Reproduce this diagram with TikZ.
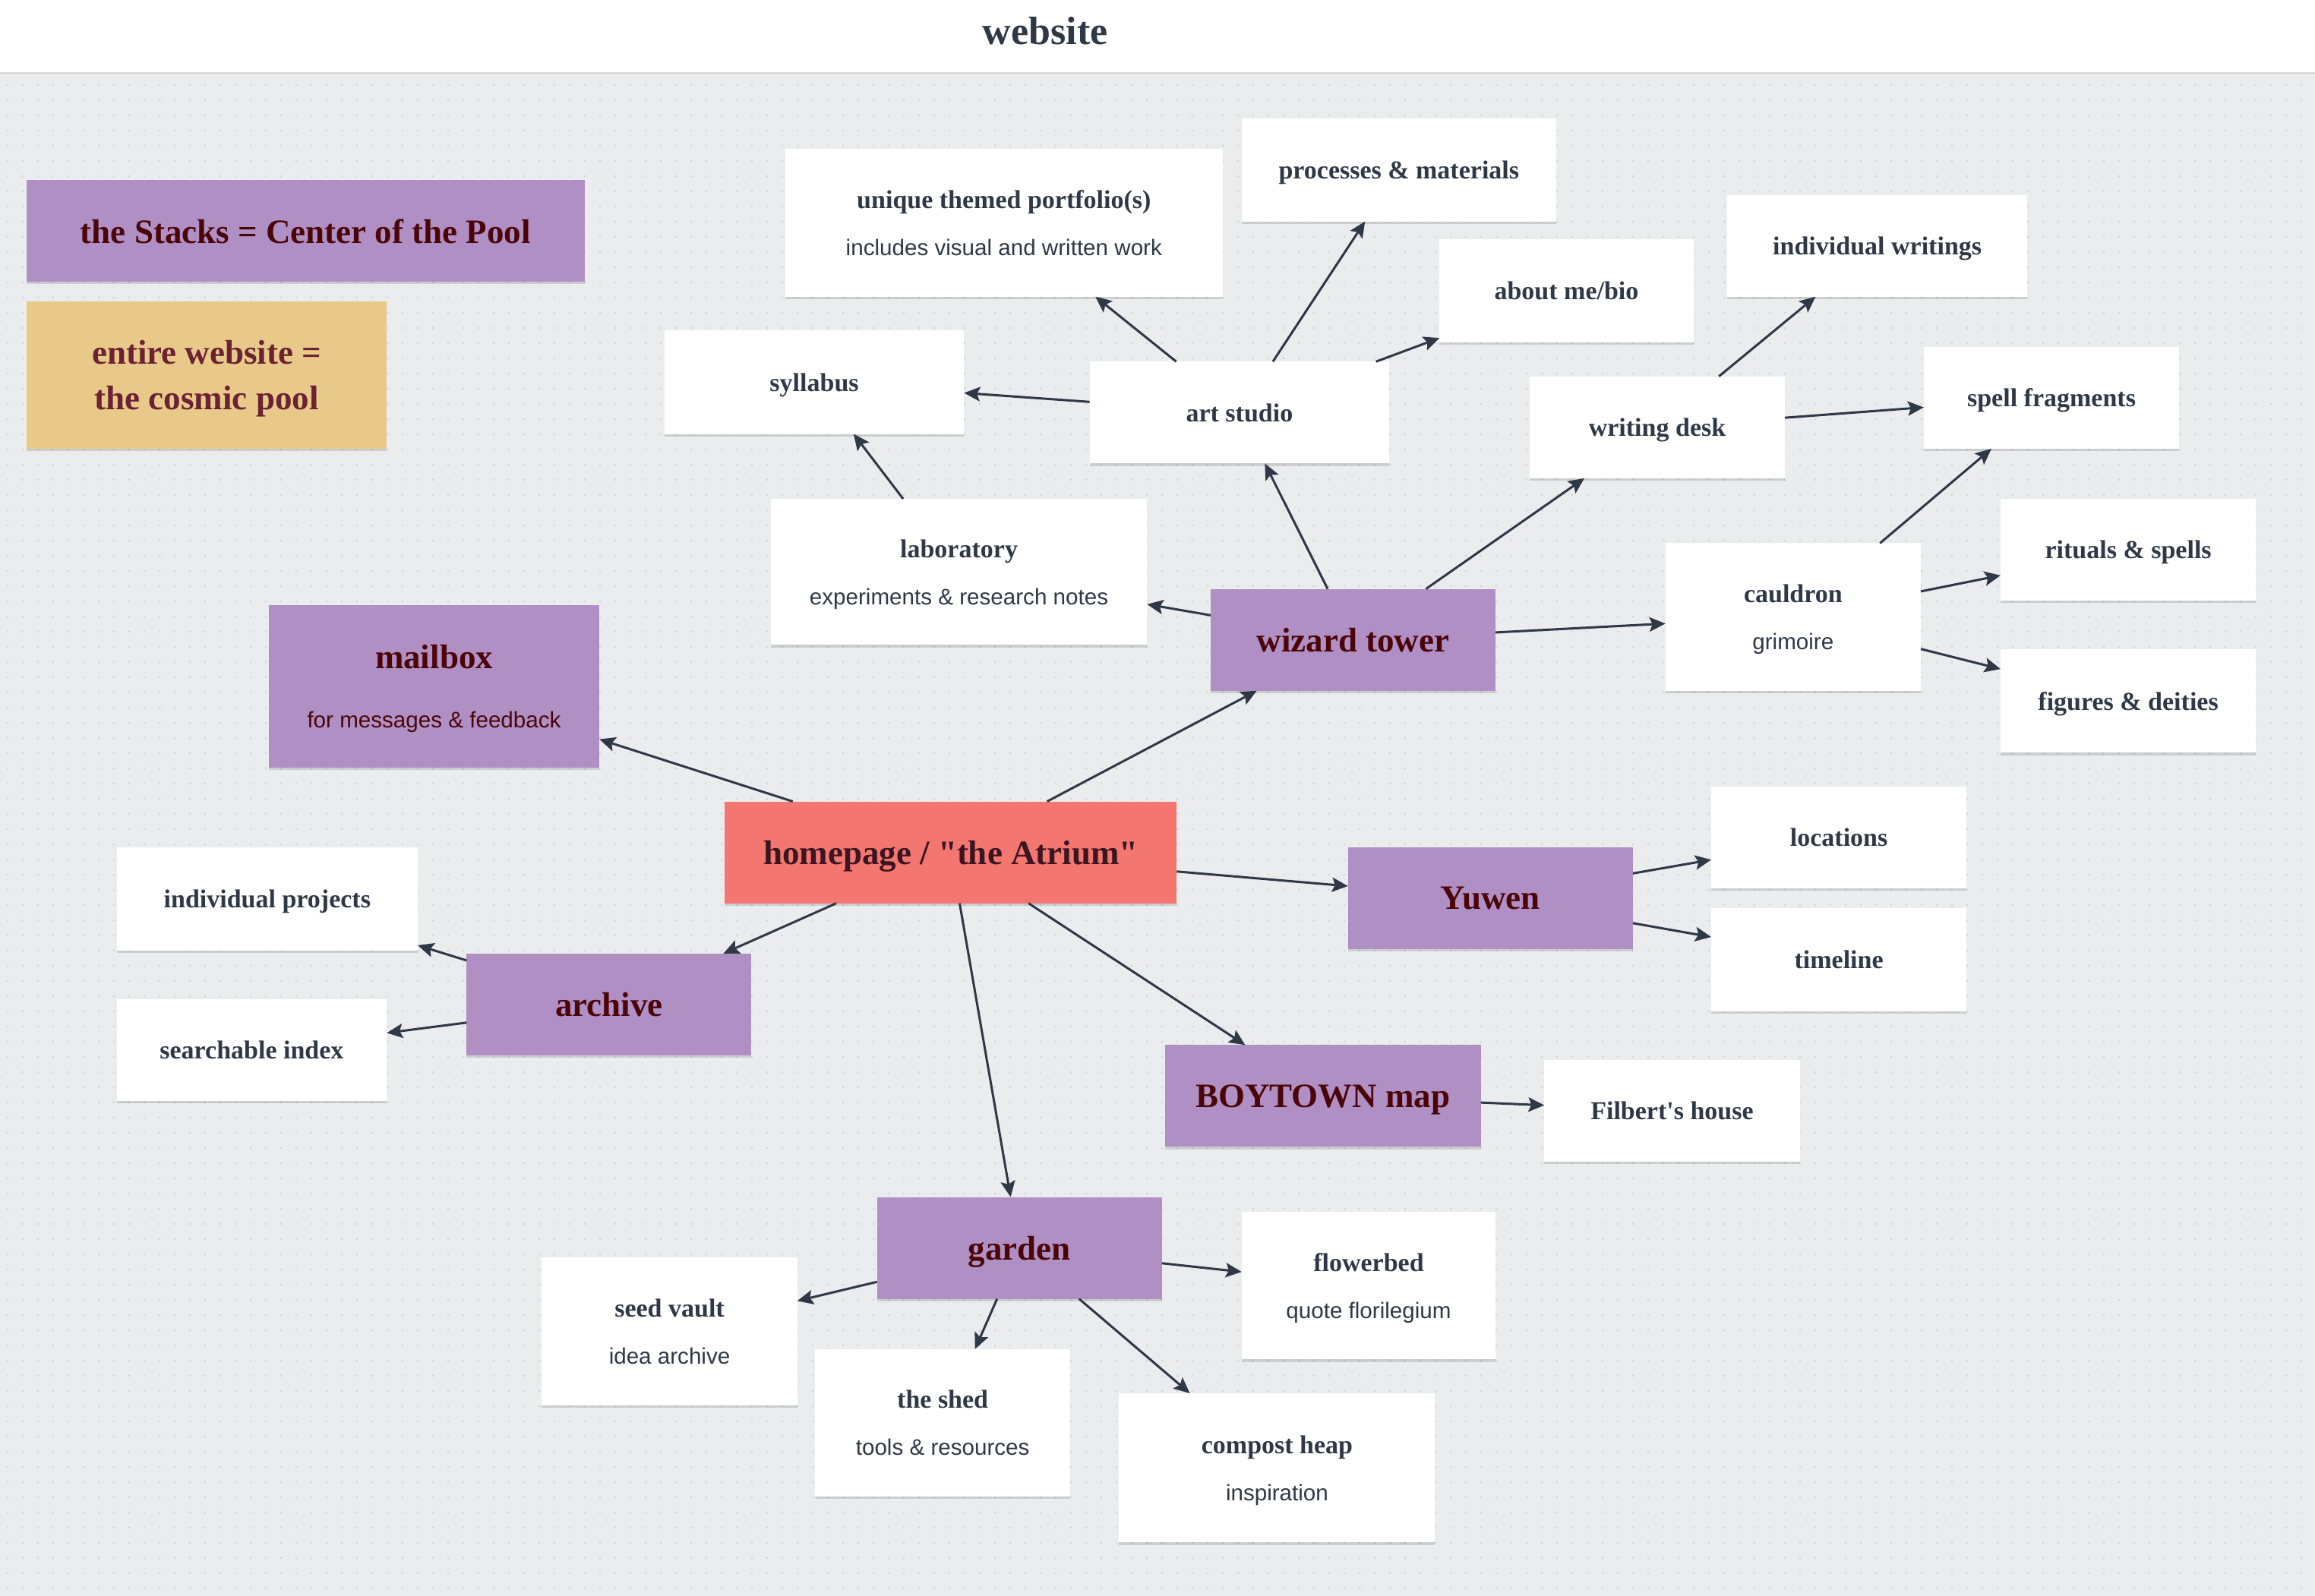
\documentclass[tikz,border=0pt]{standalone}
\usepackage{fontspec}
\setmainfont{Liberation Serif}[Ligatures=TeXOff]
\newfontfamily\subf{Liberation Sans}[Ligatures=TeXOff]
\usetikzlibrary{arrows.meta,shadows,patterns}
\definecolor{bgc}{HTML}{EBECEE}
\definecolor{dotc}{HTML}{D4D5D9}
\definecolor{purp}{HTML}{B08FC4}
\definecolor{ptext}{HTML}{4B0508}
\definecolor{wtext}{HTML}{2F3847}
\definecolor{yel}{HTML}{E8C98A}
\definecolor{ytext}{HTML}{6B2233}
\definecolor{salm}{HTML}{F37670}
\definecolor{stext}{HTML}{3B1520}
\definecolor{linec}{HTML}{2F3847}
\pgfdeclarepatternformonly{griddots}{\pgfqpoint{0pt}{0pt}}{\pgfqpoint{10pt}{10pt}}{\pgfqpoint{10pt}{10pt}}{\pgfpathrectangle{\pgfqpoint{4.5pt}{4.5pt}}{\pgfqpoint{1.1pt}{1.1pt}}\pgfusepath{fill}}
\newcommand\subt[1]{{\subf\mdseries\fontsize{14.8}{31}\selectfont #1}}
\newcommand\bx[7]{%
  \pgfmathsetmacro\bw{(#4-#2)*0.972}%
  \pgfmathsetmacro\bh{(#5-#3)*0.972}%
  \node[#6, minimum width=\bw pt, minimum height=\bh pt] (#1) at ({(#2+#4)/2},{(#3+#5)/2}) {#7};}
\begin{document}
\begin{tikzpicture}[x=0.972pt,y=-0.972pt,
  box/.style={rectangle, inner sep=0pt, outer sep=0pt, align=center, text depth=0pt,
    drop shadow={shadow xshift=0pt, shadow yshift=-1.6pt, opacity=0.13, fill=black}},
  wbox/.style={box, fill=white, text=wtext, font=\fontsize{17}{31}\selectfont\bfseries},
  pbox/.style={box, fill=purp, text=ptext, font=\fontsize{22.5}{30}\selectfont\bfseries},
  ybox/.style={box, fill=yel, text=ytext, font=\fontsize{22.5}{30}\selectfont\bfseries},
  sbox/.style={box, fill=salm, text=stext, font=\fontsize{22.5}{30}\selectfont\bfseries},
  conn/.style={draw=linec, line width=1.5pt, -{Stealth[length=10.5pt,width=9.5pt,inset=2pt]}}]
\useasboundingbox (0,0) rectangle (1568,1081.3);
\fill[bgc] (0,0) rectangle (1568,1081.3);
\fill[pattern=griddots, pattern color=dotc] (0,50) rectangle (1568,1081.3);
\fill[white] (0,0) rectangle (1568,49);
\fill[black!14] (0,49) rectangle (1568,50.2);
\fill[black!6] (0,50.2) rectangle (1568,51.5);
\node[text=wtext, font=\fontsize{26}{30}\selectfont\bfseries] (title) at (708,21) {website};

% legend
\bx{stacks}{18}{122}{396}{191}{pbox}{the Stacks = Center of the Pool}
\bx{cosmic}{18}{204}{262}{304}{ybox}{entire website =\\the cosmic pool}

% art studio cluster
\bx{portfolio}{532}{101}{828}{201}{wbox}{unique themed portfolio(s)\\\subt{includes visual and written work}}
\bx{processes}{841}{80}{1054}{150}{wbox}{processes \& materials}
\bx{about}{975}{162}{1147}{232}{wbox}{about me/bio}
\bx{indwrit}{1170}{132}{1373}{201}{wbox}{individual writings}
\bx{syllabus}{450}{224}{653}{294}{wbox}{syllabus}
\bx{art}{738}{245}{941}{314}{wbox}{art studio}
\bx{desk}{1036}{255}{1209}{324}{wbox}{writing desk}
\bx{spellfr}{1303}{235}{1476}{304}{wbox}{spell fragments}
\bx{lab}{522}{338}{777}{437}{wbox}{laboratory\\\subt{experiments \& research notes}}
\bx{wizard}{820}{399}{1013}{468}{pbox}{wizard tower}
\bx{cauldron}{1128}{368}{1301}{468}{wbox}{cauldron\\\subt{grimoire}}
\bx{rituals}{1355}{338}{1528}{407}{wbox}{rituals \& spells}
\bx{figures}{1355}{440}{1528}{510}{wbox}{figures \& deities}

% center
\bx{mailbox}{182}{410}{406}{520}{pbox}{mailbox\\[9pt]\subt{for messages \& feedback}}
\bx{home}{491}{543}{797}{612}{sbox}{homepage / "the Atrium"}
\bx{yuwen}{913}{574}{1106}{643}{pbox}{Yuwen}
\bx{locations}{1159}{533}{1332}{602}{wbox}{locations}
\bx{timeline}{1159}{615}{1332}{685}{wbox}{timeline}
\bx{indproj}{79}{574}{283}{644}{wbox}{individual projects}
\bx{archive}{316}{646}{509}{715}{pbox}{archive}
\bx{search}{79}{677}{262}{746}{wbox}{searchable index}
\bx{boytown}{789}{708}{1003}{777}{pbox}{BOYTOWN map}
\bx{filbert}{1046}{718}{1219}{787}{wbox}{Filbert's house}

% garden cluster
\bx{garden}{594}{811}{787}{880}{pbox}{garden}
\bx{seed}{367}{852}{540}{952}{wbox}{seed vault\\\subt{idea archive}}
\bx{flower}{841}{821}{1013}{921}{wbox}{flowerbed\\\subt{quote florilegium}}
\bx{shed}{552}{914}{725}{1014}{wbox}{the shed\\\subt{tools \& resources}}
\bx{compost}{758}{944}{972}{1045}{wbox}{compost heap\\\subt{inspiration}}

% connectors
\draw[conn] (art) -- (portfolio);
\draw[conn] (art) -- (processes);
\draw[conn] (art) -- (about);
\draw[conn] (art) -- (syllabus);
\draw[conn] (lab) -- (syllabus);
\draw[conn] (wizard) -- (art);
\draw[conn] (wizard) -- (lab);
\draw[conn] (wizard) -- (desk);
\draw[conn] (wizard) -- (cauldron);
\draw[conn] (desk) -- (indwrit);
\draw[conn] (desk) -- (spellfr);
\draw[conn] (cauldron) -- (spellfr);
\draw[conn] (cauldron) -- (rituals);
\draw[conn] (cauldron) -- (figures);
\draw[conn] (home) -- (wizard);
\draw[conn] (home) -- (mailbox);
\draw[conn] (home) -- (yuwen);
\draw[conn] (home) -- (archive);
\draw[conn] (home) -- (boytown);
\draw[conn] (home) -- (garden);
\draw[conn] (yuwen) -- (locations);
\draw[conn] (yuwen) -- (timeline);
\draw[conn] (archive) -- (indproj);
\draw[conn] (archive) -- (search);
\draw[conn] (boytown) -- (filbert);
\draw[conn] (garden) -- (seed);
\draw[conn] (garden) -- (shed);
\draw[conn] (garden) -- (compost);
\draw[conn] (garden) -- (flower);
\end{tikzpicture}
\end{document}
